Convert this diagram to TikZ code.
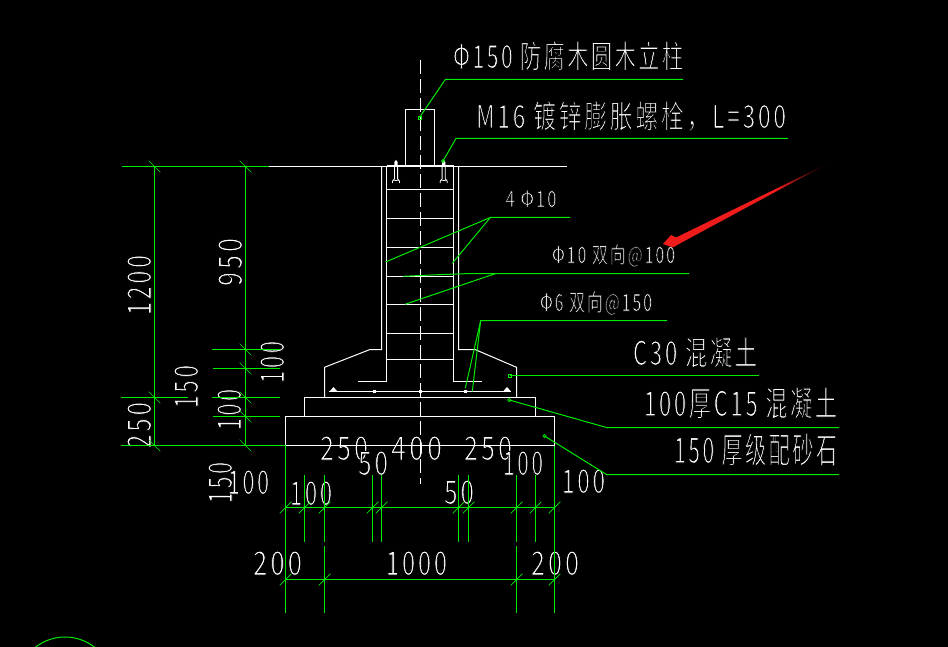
\documentclass[tikz,border=0pt]{standalone}
\usepackage{fontspec}
\newfontfamily\cadfont[LetterSpace=12]{Noto Sans CJK SC}
\newcommand{\cadtext}[3]{\resizebox{#1pt}{#2pt}{\special{pdf:code 2 Tr 0 0 0 RG 0.9 w}\cadfont\fontsize{30}{30}\selectfont #3\special{pdf:code 0 Tr}}}
\definecolor{cadgreen}{RGB}{0,235,0}
\definecolor{arrowred}{RGB}{240,28,28}
\tikzset{
 x=1pt,y=-1pt,
 wl/.style={draw=white,line width=1pt},
 gl/.style={draw=cadgreen,line width=1pt},
 leader/.style={draw=cadgreen,line width=1pt},
 lbl/.style={anchor=base west,inner sep=0pt,outer sep=0pt,text=white},
 rlbl/.style={anchor=base west,inner sep=0pt,outer sep=0pt,text=white,rotate=90},
 centerline/.style={draw=white,line width=1pt,dash pattern=on 14pt off 5pt},
 tick/.pic={\draw[draw=cadgreen,line width=0.7pt] (-5.8,-5.8)--(5.8,5.8);},
 htick/.pic={\draw[draw=cadgreen,line width=0.7pt] (-5.8,5.8)--(5.8,-5.8);},
}
\begin{document}
\begin{tikzpicture}
\useasboundingbox (0,0) rectangle (948,647);
\clip (0,0) rectangle (948,647);
\fill[black] (0,0) rectangle (948,647);

% ---------- texts
\node[lbl] (t1) at (453,68) {\cadtext{230}{27}{Φ150 防腐木圆木立柱}};
\node[lbl] (t2) at (476,128) {\cadtext{310}{27}{M16 镀锌膨胀螺栓，L=300}};
\node[lbl] (t3) at (505.5,207) {\cadtext{51}{17}{4 Φ10}};
\node[lbl] (t4) at (552,263) {\cadtext{123}{19}{Φ10 双向@100}};
\node[lbl] (t5) at (540,311) {\cadtext{112}{20}{Φ6 双向@150}};
\node[lbl] (t6) at (633,365) {\cadtext{124}{28}{C30 混凝土}};
\node[lbl] (t7) at (644,416) {\cadtext{193}{29}{100厚C15 混凝土}};
\node[lbl] (t8) at (674,463) {\cadtext{163}{30}{150 厚级配砂石}};

\node[rlbl] (d1) at (151,315) {\cadtext{60}{24}{1200}};
\node[rlbl] (d2) at (242,286) {\cadtext{48}{24}{950}};
\node[rlbl] (d3) at (284,383) {\cadtext{42}{24}{100}};
\node[rlbl] (d4) at (198,408) {\cadtext{43}{24}{150}};
\node[rlbl] (d5) at (151,448) {\cadtext{46}{24}{250}};
\node[rlbl] (d6) at (241,430) {\cadtext{41}{24}{100}};
\node[rlbl] (d7) at (232,503) {\cadtext{41}{24}{150}};
\node[lbl] (h1) at (228,494) {\cadtext{41}{24}{100}};
\node[lbl] (h2) at (290,505) {\cadtext{42}{24}{100}};
\node[lbl] (h3) at (320,460) {\cadtext{48}{24}{250}};
\node[lbl] (h4) at (391,460) {\cadtext{51}{24}{400}};
\node[lbl] (h5) at (464,460) {\cadtext{48}{24}{250}};
\node[lbl] (h6) at (358,475) {\cadtext{30}{24}{50}};
\node[lbl] (h7) at (444,504) {\cadtext{30}{24}{50}};
\node[lbl] (h8) at (503,475) {\cadtext{40}{24}{100}};
\node[lbl] (h9) at (562,493) {\cadtext{43}{24}{100}};
\node[lbl] (h10) at (253,575) {\cadtext{49}{24}{200}};
\node[lbl] (h11) at (386,575) {\cadtext{61}{24}{1000}};
\node[lbl] (h12) at (531,575) {\cadtext{48}{24}{200}};

% ---------- centre line
\draw[centerline] (420.5,60)--(420.5,484);

% ---------- structure
\draw[wl] (405.5,166)--(405.5,109.5)--(434.5,109.5)--(434.5,166);
\draw[wl] (269,166.5)--(567,166.5);
\draw[draw=white,line width=2pt] (386.5,166)--(453.5,166);
% column and footing outline
\draw[wl] (381.5,166)--(381.5,349.5)--(370,349.5)--(324.5,367.3)--(324.5,397.5);
\draw[wl] (458.5,166)--(458.5,349.5)--(475,349.5)--(516.5,367.3)--(516.5,397.5);
% stirrup verticals and foot bars
\draw[wl] (386.5,166)--(386.5,381.5)--(358,381.5);
\draw[wl] (453.5,166)--(453.5,381.5)--(481.7,381.5);
\foreach \yy in {189.5,218.5,247.5,276.5,304.5,333.5,359.5}
  \draw[wl] (386.5,\yy)--(453.5,\yy);
% bottom mat
\draw[draw=white,line width=1.1pt] (329.3,391.5)--(510.7,391.5);
\fill[white] (330,391)--(333.5,387)--(337,391)--cycle;
\fill[white] (503.5,391)--(507,387)--(510.5,391)--cycle;
\fill[white] (373,389.5) rectangle (376,392.5);
\fill[white] (419,389.5) rectangle (422,392.5);
\fill[white] (464,389.5) rectangle (467,392.5);
% layers
\draw[wl] (304.5,416)--(304.5,397.5)--(535.5,397.5)--(535.5,416);
\draw[wl] (285.5,445.5)--(285.5,416.5)--(554.5,416.5)--(554.5,445.5);
\draw[wl] (285.5,445.5)--(554.5,445.5);
% bolts
\foreach \bx in {396,443.7}{
  \fill[white] (\bx-1.6,165)--(\bx-1.6,162)--(\bx,160)--(\bx+1.6,162)--(\bx+1.6,165)--cycle;
  \draw[draw=white,line width=0.8pt] (\bx-1.6,166)--(\bx-1.6,179)--(\bx-3.4,181)--(\bx-3.6,183);
  \draw[draw=white,line width=0.8pt] (\bx+1.6,166)--(\bx+1.6,179)--(\bx+3.4,181)--(\bx+3.6,183);
  \draw[draw=white,line width=0.8pt] (\bx-3,180)--(\bx,180.5)--(\bx+3,180);
}

% ---------- left dimensions
\draw[gl] (122,166.5)--(269,166.5);
\draw[gl] (154.5,166)--(154.5,445.5);
\draw[gl] (245.5,166)--(245.5,445.5);
\draw[gl] (212,349.5)--(280,349.5);
\draw[gl] (213,368.5)--(280,368.5);
\draw[gl] (212,397.5)--(280,397.5);
\draw[gl] (213,416.5)--(280,416.5);
\draw[gl] (121,397.5)--(188,397.5);
\draw[gl] (121,445.5)--(285.5,445.5);
\foreach \px/\py in {154.5/166.5,245.5/166.5,154.5/397.5,154.5/445.5,245.5/349.5,245.5/368.5,245.5/397.5,245.5/416.5,245.5/445.5}
  \pic at (\px,\py) {tick};

% ---------- bottom dimensions
\draw[gl] (285.5,445.5)--(285.5,612.7);
\draw[gl] (554.5,445.5)--(554.5,612.7);
\draw[gl] (285.5,507.5)--(554.5,507.5);
\draw[gl] (285.5,579.5)--(554.5,579.5);
\foreach \px in {304.5,324.5,372.5,381.5,458.5,468.5,516.5,535.5}
  \draw[gl] (\px,475)--(\px,541.7);
\foreach \px in {324.5,516.5}
  \draw[gl] (\px,546)--(\px,612.7);
\foreach \px in {285.5,304.5,324.5,372.5,381.5,458.5,468.5,516.5,535.5,554.5}
  \pic at (\px,507.5) {htick};
\foreach \px in {285.5,324.5,516.5,554.5}
  \pic at (\px,579.5) {htick};

% ---------- leaders
\coordinate (a1) at (419.5,117.5);
\coordinate (k1) at (445.3,79.5);
\coordinate (e1) at (683,79.5);
\draw[leader] (a1)--(k1)--(e1);
\draw[gl,line width=0.7pt] (418,116) rectangle (421,119);
\coordinate (a2) at (443,161);
\coordinate (k2) at (456,138.5);
\coordinate (e2) at (788,138.5);
\draw[leader] (a2)--(k2)--(e2);
\draw[gl,line width=0.7pt] (a2) circle (1.7);
\coordinate (k3) at (490.3,217.5);
\coordinate (e3) at (570,217.5);
\coordinate (a3a) at (385.5,262);
\coordinate (a3b) at (452.3,263.3);
\draw[leader] (a3a)--(k3)--(e3);
\draw[leader] (a3b)--(k3);
\coordinate (k4) at (471.7,273.5);
\coordinate (e4) at (689,273.5);
\coordinate (a4a) at (403.3,276.3);
\coordinate (k4b) at (495.7,273.5);
\coordinate (a4b) at (405,304.3);
\draw[leader] (a4a)--(440,274.6)--(k4)--(e4);
\draw[leader] (a4b)--(k4b);
\coordinate (k5) at (480.7,320.5);
\coordinate (e5) at (667,320.5);
\coordinate (a5a) at (465.3,388.3);
\coordinate (a5b) at (472.3,391.3);
\draw[leader] (a5a)--(k5)--(e5);
\draw[leader] (a5b)--(k5);
\coordinate (a6) at (509.5,375.5);
\coordinate (e6) at (759,375.5);
\draw[leader] (a6)--(e6);
\draw[gl,line width=0.7pt] (508,374) rectangle (511.5,377);
\coordinate (a7) at (509.3,400);
\coordinate (k7) at (606.5,427.5);
\coordinate (e7) at (839,427.5);
\draw[leader] (a7)--(k7)--(e7);
\draw[gl,line width=0.7pt] (a7) circle (1.7);
\coordinate (a8) at (544.5,436);
\coordinate (k8) at (606.5,474.5);
\coordinate (e8) at (839,474.5);
\draw[leader] (a8)--(k8)--(e8);
\draw[gl,line width=0.7pt] (a8) circle (1.7);

% ---------- circle at the bottom edge
\draw[gl] (65,685) circle (48);

% ---------- red arrow: solid head and shaft, then a tail that fades to black
\fill[arrowred] (663,244)--(671,235)--(676,237.5)--(775,189.3)--(775,192.1)--(678,244.5)--(673,247.5)--cycle;
\shade[left color=arrowred,right color=black] (775,189.3)--(829,163)--(775,192.1)--cycle;
\end{tikzpicture}
\end{document}
